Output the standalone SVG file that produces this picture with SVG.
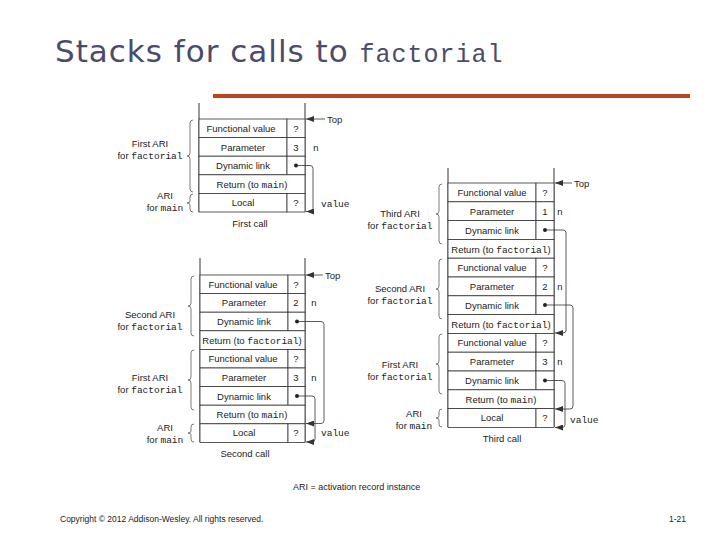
<svg xmlns="http://www.w3.org/2000/svg" width="720" height="540" viewBox="0 0 720 540">
<style>
text{font-family:"Liberation Sans",Arial,sans-serif;font-size:9.5px;fill:#222}
.m{font-family:"Liberation Mono","Courier New",monospace}
.c{text-anchor:middle}
.r{fill:#fff;stroke:#333;stroke-width:0.8}
.v{stroke:#555;stroke-width:1.2}
.w{fill:none;stroke:#333;stroke-width:0.8}
.b{fill:none;stroke:#444;stroke-width:0.7}
</style>
<defs><marker id="a" viewBox="0 0 8 6" refX="8" refY="3" markerWidth="8" markerHeight="6" orient="auto" markerUnits="userSpaceOnUse"><path d="M0,0L8,3L0,6z" fill="#333"/></marker></defs>
<rect width="720" height="540" fill="#fff"/>
<text x="55" y="62" style="font-size:31px;fill:#4b4b6b;font-family:'DejaVu Sans',sans-serif;letter-spacing:1px">Stacks for calls to <tspan class="m" style="font-size:25px;fill:#4b4b6b">factorial</tspan></text>
<rect x="213" y="94" width="477" height="4" fill="#c0401a"/>

<g id="stack1">
<line class="v" x1="199" y1="103" x2="199" y2="212"/><line class="v" x1="305" y1="103" x2="305" y2="212"/>
<rect class="r" x="199" y="119" width="88" height="18.6"/><rect class="r" x="287" y="119" width="18" height="18.6"/>
<rect class="r" x="199" y="137.6" width="88" height="18.6"/><rect class="r" x="287" y="137.6" width="18" height="18.6"/>
<rect class="r" x="199" y="156.2" width="88" height="18.6"/><rect class="r" x="287" y="156.2" width="18" height="18.6"/>
<rect class="r" x="199" y="174.8" width="106" height="18.6"/>
<rect class="r" x="199" y="193.4" width="88" height="18.6"/><rect class="r" x="287" y="193.4" width="18" height="18.6"/>
<text class="c" x="241" y="132">Functional value</text><text class="c" x="296" y="132">?</text>
<text class="c" x="243" y="151">Parameter</text><text class="c" x="296" y="151">3</text>
<text class="c" x="243" y="169">Dynamic link</text>
<text class="c" x="252" y="188">Return (to <tspan class="m">main</tspan>)</text>
<text class="c" x="243" y="206">Local</text><text class="c" x="296" y="206">?</text>
<text class="m" x="313" y="151">n</text><text class="m" x="321" y="207">value</text>
<text x="327" y="123">Top</text>
<text class="c" x="250" y="227">First call</text>
<text class="c" x="150" y="147">First ARI</text><text class="c" x="150" y="159">for <tspan class="m">factorial</tspan></text>
<text class="c" x="165" y="199">ARI</text><text class="c" x="165" y="211">for <tspan class="m">main</tspan></text>
<path class="b" d="M193,120q-3,0-3,3v30q0,3-3,3q3,0,3,3v30q0,3,3,3"/>
<path class="b" d="M193,194q-3,0-3,3v4q0,2-3,2q3,0,3,2v4q0,3,3,3"/>
</g>

<g id="stack2">
<line class="v" x1="200" y1="258" x2="200" y2="442"/><line class="v" x1="305" y1="258" x2="305" y2="442"/>
<rect class="r" x="200" y="275" width="88" height="18.6"/><rect class="r" x="288" y="275" width="17" height="18.6"/>
<rect class="r" x="200" y="293.6" width="88" height="18.6"/><rect class="r" x="288" y="293.6" width="17" height="18.6"/>
<rect class="r" x="200" y="312.2" width="88" height="18.6"/><rect class="r" x="288" y="312.2" width="17" height="18.6"/>
<rect class="r" x="200" y="330.8" width="105" height="18.6"/>
<rect class="r" x="200" y="349.4" width="88" height="18.6"/><rect class="r" x="288" y="349.4" width="17" height="18.6"/>
<rect class="r" x="200" y="368" width="88" height="18.6"/><rect class="r" x="288" y="368" width="17" height="18.6"/>
<rect class="r" x="200" y="386.6" width="88" height="18.6"/><rect class="r" x="288" y="386.6" width="17" height="18.6"/>
<rect class="r" x="200" y="405.2" width="105" height="18.6"/>
<rect class="r" x="200" y="423.8" width="88" height="18.6"/><rect class="r" x="288" y="423.8" width="17" height="18.6"/>
<text class="c" x="243" y="288">Functional value</text><text class="c" x="296" y="288">?</text>
<text class="c" x="244" y="306">Parameter</text><text class="c" x="296" y="306">2</text>
<text class="c" x="244" y="325">Dynamic link</text>
<text class="c" x="252" y="344">Return (to <tspan class="m">factorial</tspan>)</text>
<text class="c" x="243" y="362">Functional value</text><text class="c" x="296" y="362">?</text>
<text class="c" x="244" y="381">Parameter</text><text class="c" x="296" y="381">3</text>
<text class="c" x="244" y="400">Dynamic link</text>
<text class="c" x="252" y="418">Return (to <tspan class="m">main</tspan>)</text>
<text class="c" x="244" y="436">Local</text><text class="c" x="296" y="436">?</text>
<text class="m" x="311" y="306">n</text><text class="m" x="311" y="381">n</text><text class="m" x="321" y="436">value</text>
<text x="325" y="279">Top</text>
<text class="c" x="245" y="457">Second call</text>
<text class="c" x="150" y="318">Second ARI</text><text class="c" x="150" y="330">for <tspan class="m">factorial</tspan></text>
<text class="c" x="150" y="381">First ARI</text><text class="c" x="150" y="393">for <tspan class="m">factorial</tspan></text>
<text class="c" x="165" y="431">ARI</text><text class="c" x="165" y="443">for <tspan class="m">main</tspan></text>
<path class="b" d="M194,276q-3,0-3,3v24q0,3-3,3q3,0,3,3v24q0,3,3,3"/>
<path class="b" d="M194,350q-3,0-3,3v24q0,3-3,3q3,0,3,3v24q0,3,3,3"/>
<path class="b" d="M194,424q-3,0-3,3v4q0,2-3,2q3,0,3,2v4q0,3,3,3"/>
</g>

<g id="stack3">
<line class="v" x1="448" y1="168" x2="448" y2="427"/><line class="v" x1="554" y1="168" x2="554" y2="427"/>
<rect class="r" x="448" y="183" width="88" height="18.8"/><rect class="r" x="536" y="183" width="18" height="18.8"/>
<rect class="r" x="448" y="201.8" width="88" height="18.8"/><rect class="r" x="536" y="201.8" width="18" height="18.8"/>
<rect class="r" x="448" y="220.6" width="88" height="18.8"/><rect class="r" x="536" y="220.6" width="18" height="18.8"/>
<rect class="r" x="448" y="239.4" width="106" height="18.8"/>
<rect class="r" x="448" y="258.2" width="88" height="18.8"/><rect class="r" x="536" y="258.2" width="18" height="18.8"/>
<rect class="r" x="448" y="277" width="88" height="18.8"/><rect class="r" x="536" y="277" width="18" height="18.8"/>
<rect class="r" x="448" y="295.8" width="88" height="18.8"/><rect class="r" x="536" y="295.8" width="18" height="18.8"/>
<rect class="r" x="448" y="314.6" width="106" height="18.8"/>
<rect class="r" x="448" y="333.4" width="88" height="18.8"/><rect class="r" x="536" y="333.4" width="18" height="18.8"/>
<rect class="r" x="448" y="352.2" width="88" height="18.8"/><rect class="r" x="536" y="352.2" width="18" height="18.8"/>
<rect class="r" x="448" y="371" width="88" height="18.8"/><rect class="r" x="536" y="371" width="18" height="18.8"/>
<rect class="r" x="448" y="389.8" width="106" height="18.8"/>
<rect class="r" x="448" y="408.6" width="88" height="18.8"/><rect class="r" x="536" y="408.6" width="18" height="18.8"/>
<text class="c" x="492" y="196">Functional value</text><text class="c" x="545" y="196">?</text>
<text class="c" x="492" y="215">Parameter</text><text class="c" x="545" y="215">1</text>
<text class="c" x="492" y="234">Dynamic link</text>
<text class="c" x="501" y="253">Return (to <tspan class="m">factorial</tspan>)</text>
<text class="c" x="492" y="271">Functional value</text><text class="c" x="545" y="271">?</text>
<text class="c" x="492" y="290">Parameter</text><text class="c" x="545" y="290">2</text>
<text class="c" x="492" y="309">Dynamic link</text>
<text class="c" x="501" y="328">Return (to <tspan class="m">factorial</tspan>)</text>
<text class="c" x="492" y="346">Functional value</text><text class="c" x="545" y="346">?</text>
<text class="c" x="492" y="365">Parameter</text><text class="c" x="545" y="365">3</text>
<text class="c" x="492" y="384">Dynamic link</text>
<text class="c" x="501" y="403">Return (to <tspan class="m">main</tspan>)</text>
<text class="c" x="492" y="421">Local</text><text class="c" x="545" y="421">?</text>
<text class="m" x="557" y="215">n</text><text class="m" x="557" y="290">n</text><text class="m" x="557" y="365">n</text><text class="m" x="570" y="423">value</text>
<text x="574" y="187">Top</text>
<text class="c" x="502" y="442">Third call</text>
<text class="c" x="400" y="217">Third ARI</text><text class="c" x="400" y="229">for <tspan class="m">factorial</tspan></text>
<text class="c" x="400" y="292">Second ARI</text><text class="c" x="400" y="304">for <tspan class="m">factorial</tspan></text>
<text class="c" x="400" y="368">First ARI</text><text class="c" x="400" y="380">for <tspan class="m">factorial</tspan></text>
<text class="c" x="414" y="417">ARI</text><text class="c" x="414" y="429">for <tspan class="m">main</tspan></text>
<path class="b" d="M442,184q-3,0-3,3v24q0,3-3,3q3,0,3,3v24q0,3,3,3"/>
<path class="b" d="M442,259q-3,0-3,3v24q0,3-3,3q3,0,3,3v24q0,3,3,3"/>
<path class="b" d="M442,334q-3,0-3,3v24q0,3-3,3q3,0,3,3v24q0,3,3,3"/>
<path class="b" d="M442,409q-3,0-3,3v4q0,2-3,2q3,0,3,2v4q0,3,3,3"/>
</g>

<g id="connectors">
<g fill="#222"><circle cx="296" cy="165.5" r="2"/><circle cx="297" cy="321.5" r="2"/><circle cx="297" cy="396" r="2"/><circle cx="545" cy="230" r="2"/><circle cx="545" cy="305" r="2"/><circle cx="545" cy="380.5" r="2"/></g>
<path class="w" d="M298,165.5h12q3,0,3,3v40q0,3-3,3h-4" marker-end="url(#a)"/>
<path class="w" d="M325,119h-19" marker-end="url(#a)"/>
<path class="w" d="M299,321.5h22q3,0,3,3v96q0,3-3,3h-15" marker-end="url(#a)"/>
<path class="w" d="M299,396h13q3,0,3,3v40q0,3-3,3h-6" marker-end="url(#a)"/>
<path class="w" d="M323,275h-17" marker-end="url(#a)"/>
<path class="w" d="M547,230h16q3,0,3,3v97q0,3-3,3h-8" marker-end="url(#a)"/>
<path class="w" d="M547,305h23q3,0,3,3v98q0,3-3,3h-15" marker-end="url(#a)"/>
<path class="w" d="M547,380.5h15q3,0,3,3v41q0,3-3,3h-7" marker-end="url(#a)"/>
<path class="w" d="M572,183h-17" marker-end="url(#a)"/>
</g>

<text x="293" y="490" style="font-size:9px">ARI = activation record instance</text>
<text x="60" y="522" style="font-size:8.5px">Copyright © 2012 Addison-Wesley. All rights reserved.</text>
<text x="669" y="522" style="font-size:8.5px">1-21</text>
</svg>
